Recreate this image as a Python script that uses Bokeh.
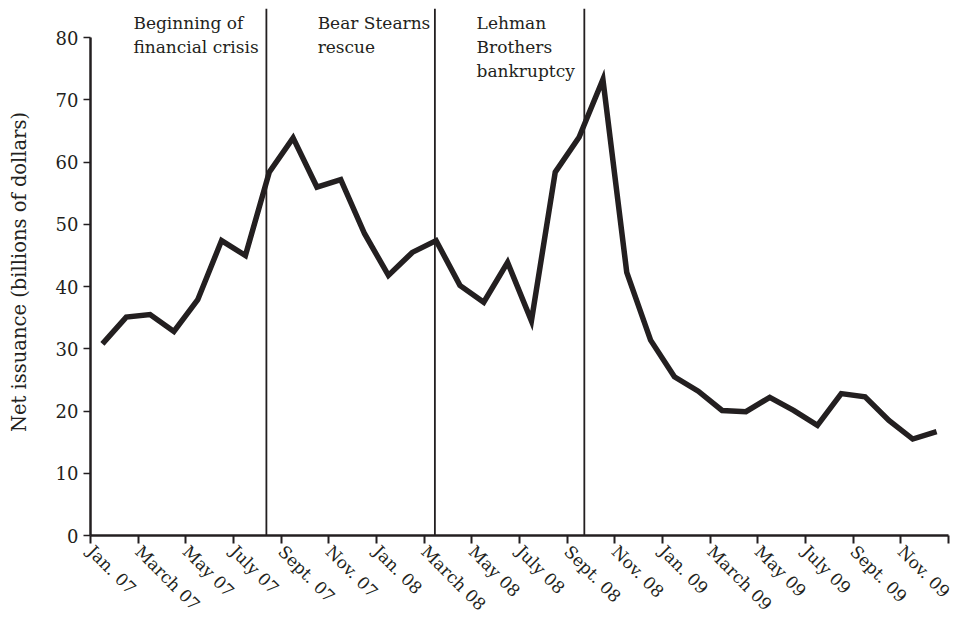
import numpy as np
from bokeh.plotting import figure
from bokeh.models import FixedTicker
from bokeh.core.properties import value
from bokeh.embed import file_html
from bokeh.resources import INLINE

# ---- data ----
tick_labels = ["Jan. 07", "March 07", "May 07", "July 07", "Sept. 07", "Nov. 07",
               "Jan. 08", "March 08", "May 08", "July 08", "Sept. 08", "Nov. 08",
               "Jan. 09", "March 09", "May 09", "July 09", "Sept. 09", "Nov. 09"]
issuance_2007 = [30.8, 35.1, 35.5, 32.8, 37.9, 47.4, 45.0, 58.4, 63.9, 56.0, 57.2, 48.5]
issuance_2008 = [41.8, 45.5, 47.4, 40.2, 37.5, 43.9, 34.5, 58.4, 64.0, 73.3, 42.3, 31.4]
issuance_2009 = [25.5, 23.2, 20.1, 19.9, 22.2, 20.1, 17.7, 22.8, 22.3, 18.5, 15.5, 16.7]
event_names = ["Beginning of\nfinancial crisis", "Bear Stearns\nrescue", "Lehman\nBrothers\nbankruptcy"]
event_month = [7.38, 14.45, 20.72]   # months since Jan. 2007 (Aug 9 07, Mar 16 08, Sep 15 08)

values = issuance_2007 + issuance_2008 + issuance_2009
month_pos = np.arange(len(values)) + 0.5   # mid-month positions

INK = "#231f20"
FONT = "DejaVu Serif"
Y_TOP = 84.7

p = figure(frame_width=858, frame_height=527, x_range=(0, 36), y_range=(0, Y_TOP),
           output_backend="svg", toolbar_location=None,
           min_border_left=90, min_border_right=9, min_border_top=8, min_border_bottom=0)
p.outline_line_color = None
p.grid.visible = False
p.background_fill_color = "white"
p.border_fill_color = "white"

# event lines
p.segment(x0=event_month, y0=[0] * 3, x1=event_month, y1=[Y_TOP] * 3,
          line_color=INK, line_width=1.8)

# series
p.line(month_pos, values, line_color=INK, line_width=5.5, line_join="miter")

# event annotations
label_x = [1.8, 9.53, 16.2]
p.text(x=label_x, y=[84.0] * 3, text=event_names, text_font=value(FONT),
       text_font_size="17px", text_color=INK, text_baseline="top", text_align="left",
       text_line_height=1.2)

# axes
xa = p.xaxis[0]
xa.ticker = FixedTicker(ticks=list(range(0, 37, 2)))
xa.major_label_overrides = {2 * i: t for i, t in enumerate(tick_labels)}
xa.major_label_overrides[36] = ""
xa.major_label_orientation = -np.pi / 4
xa.major_label_text_font = FONT
xa.major_label_text_font_size = "17px"
xa.major_label_text_color = INK
xa.minor_tick_line_color = None
xa.major_tick_in = 0
xa.major_tick_out = 8
xa.major_tick_line_width = 2
xa.major_tick_line_color = INK
xa.axis_line_width = 2.5
xa.axis_line_color = INK
xa.major_label_standoff = 5

ya = p.yaxis[0]
ya.ticker = FixedTicker(ticks=list(range(0, 81, 10)))
ya.bounds = (0, 80)
ya.major_label_text_font = FONT
ya.major_label_text_font_size = "18px"
ya.major_label_text_color = INK
ya.minor_tick_line_color = None
ya.major_tick_in = 0
ya.major_tick_out = 7
ya.major_tick_line_width = 1.5
ya.major_tick_line_color = INK
ya.axis_line_width = 2.5
ya.axis_line_color = INK
ya.major_label_standoff = 5
ya.axis_label = "Net issuance (billions of dollars)"
ya.axis_label_text_font = FONT
ya.axis_label_text_font_size = "19.5px"
ya.axis_label_text_font_style = "normal"
ya.axis_label_text_color = INK
ya.axis_label_standoff = 22

open("out.html", "w").write(file_html(p, INLINE))
